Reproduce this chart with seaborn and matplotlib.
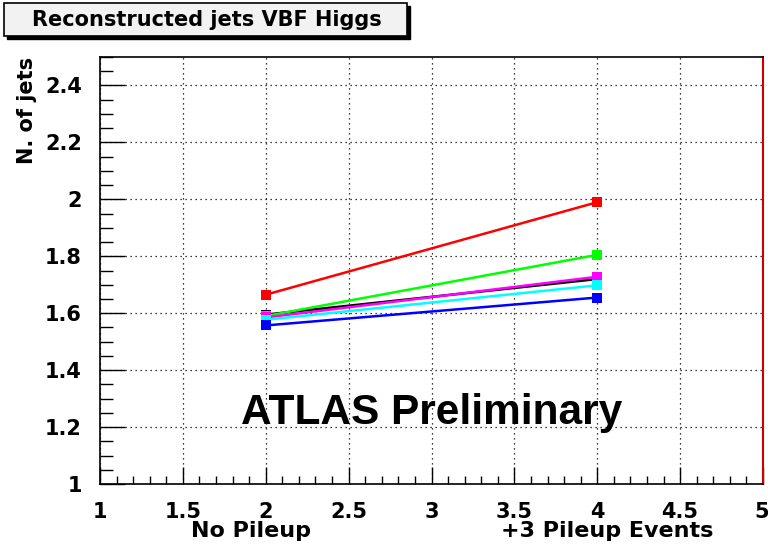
import matplotlib
matplotlib.use("Agg")
import matplotlib.pyplot as plt
import matplotlib.patches as mpatches
from matplotlib.ticker import MultipleLocator
import seaborn as sns
import pandas as pd

# ---- data ----
x_points = [2, 4]
series_names = ["red", "black", "green", "magenta", "cyan", "blue"]
red_vals = [1.665, 1.990]
black_vals = [1.595, 1.720]
green_vals = [1.590, 1.805]
magenta_vals = [1.585, 1.728]
cyan_vals = [1.577, 1.698]
blue_vals = [1.557, 1.655]
colors = ["#ff0000", "#000000", "#00ff00", "#ff00ff", "#00ffff", "#0000ff"]
title_text = "Reconstructed jets VBF Higgs"
ylabel_text = "N. of jets"
watermark = "ATLAS Preliminary"
cond_labels = ["No Pileup", "+3 Pileup Events"]

all_vals = [red_vals, black_vals, green_vals, magenta_vals, cyan_vals, blue_vals]
rows = []
for name, vals in zip(series_names, all_vals):
    for xv, yv in zip(x_points, vals):
        rows.append({"x": xv, "y": yv, "series": name})
df = pd.DataFrame(rows)

sns.set_style("white")
plt.rcParams["font.family"] = ["DejaVu Sans"]
plt.rcParams["font.weight"] = "bold"
plt.rcParams["text.color"] = "black"
plt.rcParams["xtick.color"] = "black"
plt.rcParams["ytick.color"] = "black"

W, H = 768, 554
fig = plt.figure(figsize=(W / 100, H / 100), dpi=100)
fig.patch.set_facecolor("white")
ax = fig.add_axes([100 / W, (H - 484) / H, 663 / W, (484 - 57) / H])

sns.lineplot(data=df, x="x", y="y", hue="series", hue_order=series_names,
             palette=dict(zip(series_names, colors)), marker="s", markersize=7.5,
             markeredgewidth=0, linewidth=1.8, legend=False, ax=ax)

X_MAX = 5
ax.set_xlim(1, X_MAX)
ax.set_ylim(1, 2.5)
ax.xaxis.set_major_locator(MultipleLocator(0.5))
ax.xaxis.set_minor_locator(MultipleLocator(0.1))
ax.yaxis.set_major_locator(MultipleLocator(0.2))
ax.yaxis.set_minor_locator(MultipleLocator(0.05))
# last x label is drawn separately (right-aligned) so it is not clipped at the figure edge
ax.xaxis.set_major_formatter(plt.FuncFormatter(lambda v, p: "" if abs(v - X_MAX) < 1e-9 else f"{v:g}"))
ax.yaxis.set_major_formatter(plt.FuncFormatter(lambda v, p: f"{v:g}"))
ax.tick_params(bottom=True, left=True, top=False, right=False, which="both")
ax.tick_params(axis="x", which="major", direction="in", length=12, width=1, labelsize=15, pad=13,
               labelcolor="black")
ax.tick_params(axis="x", which="minor", direction="in", length=6, width=1)
ax.tick_params(axis="y", which="major", direction="in", length=18, width=1, labelsize=15, pad=13,
               labelcolor="black")
ax.tick_params(axis="y", which="minor", direction="in", length=9, width=1)
ax.grid(True, which="major", color="black", linestyle=(0, (1, 3)), linewidth=0.9)
ax.set_axisbelow(True)
ax.set_xlabel("")
ax.set_ylabel("")
for s in ["left", "top", "bottom"]:
    ax.spines[s].set_color("black")
    ax.spines[s].set_linewidth(1.2)
ax.spines["right"].set_color("#cc0000")
ax.spines["right"].set_linewidth(1.5)

ax.annotate(f"{X_MAX:g}", xy=(X_MAX, 0), xycoords=("data", "axes fraction"),
            xytext=(4, -13), textcoords="offset points", ha="right", va="top",
            fontsize=15, fontweight="bold", annotation_clip=False)

ax.text(3.0, 1.25, watermark, fontsize=30.5, fontweight="bold", ha="center", va="center",
        family="Liberation Sans")

fig.text(251 / W, 1 - 537 / H, cond_labels[0], fontsize=16, fontweight="bold", ha="center",
         va="baseline")
fig.text(607 / W, 1 - 537 / H, cond_labels[1], fontsize=16, fontweight="bold", ha="center",
         va="baseline")

fig.text(27 / W, 1 - 57 / H, ylabel_text, fontsize=15, fontweight="bold", rotation=90,
         ha="center", va="top")

# title box with shadow
shadow = mpatches.Rectangle((7 / W, 1 - 39 / H), 403 / W, 33 / H, transform=fig.transFigure,
                            facecolor="black", edgecolor="black", zorder=1)
box = mpatches.Rectangle((4 / W, 1 - 36 / H), 403 / W, 33 / H, transform=fig.transFigure,
                         facecolor="#f2f2f2", edgecolor="black", linewidth=1.2, zorder=2)
fig.patches.extend([shadow, box])
fig.text(207 / W, 1 - 20 / H, title_text, fontsize=15, fontweight="bold", ha="center",
         va="center", zorder=3)

fig.savefig("out.png", dpi=100)
